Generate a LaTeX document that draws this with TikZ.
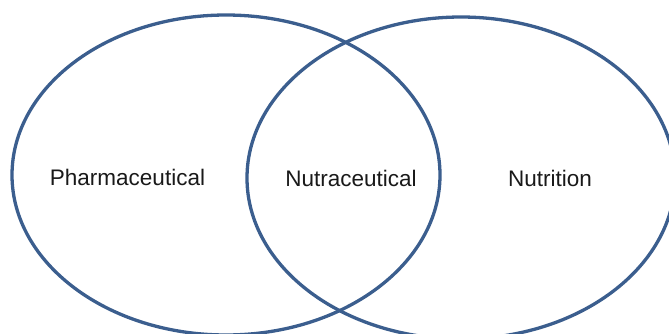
\documentclass[tikz,border=0pt]{standalone}
\usepackage{fontspec}
\setmainfont{Liberation Sans}
\definecolor{ringblue}{HTML}{3B5E8E}
\begin{document}
\begin{tikzpicture}[x=1pt,y=-1pt,
  ring/.style={draw=ringblue,line width=3.3pt},
  lbl/.style={anchor=base,inner sep=0pt,font=\fontsize{22.5}{25}\selectfont,text=black!90}]
\useasboundingbox (0,0) rectangle (669,333);
\begin{scope}
\clip (0,0) rectangle (669,333);
\draw[ring] (226,175) ellipse [x radius=214,y radius=160];
\draw[ring] (461,178) ellipse [x radius=214,y radius=161];
\end{scope}
\node[lbl] (pharma) at (127.5,185) {Pharmaceutical};
\node[lbl] (nutra) at (351,186) {Nutraceutical};
\node[lbl] (nutri) at (550,186) {Nutrition};
\end{tikzpicture}
\end{document}
